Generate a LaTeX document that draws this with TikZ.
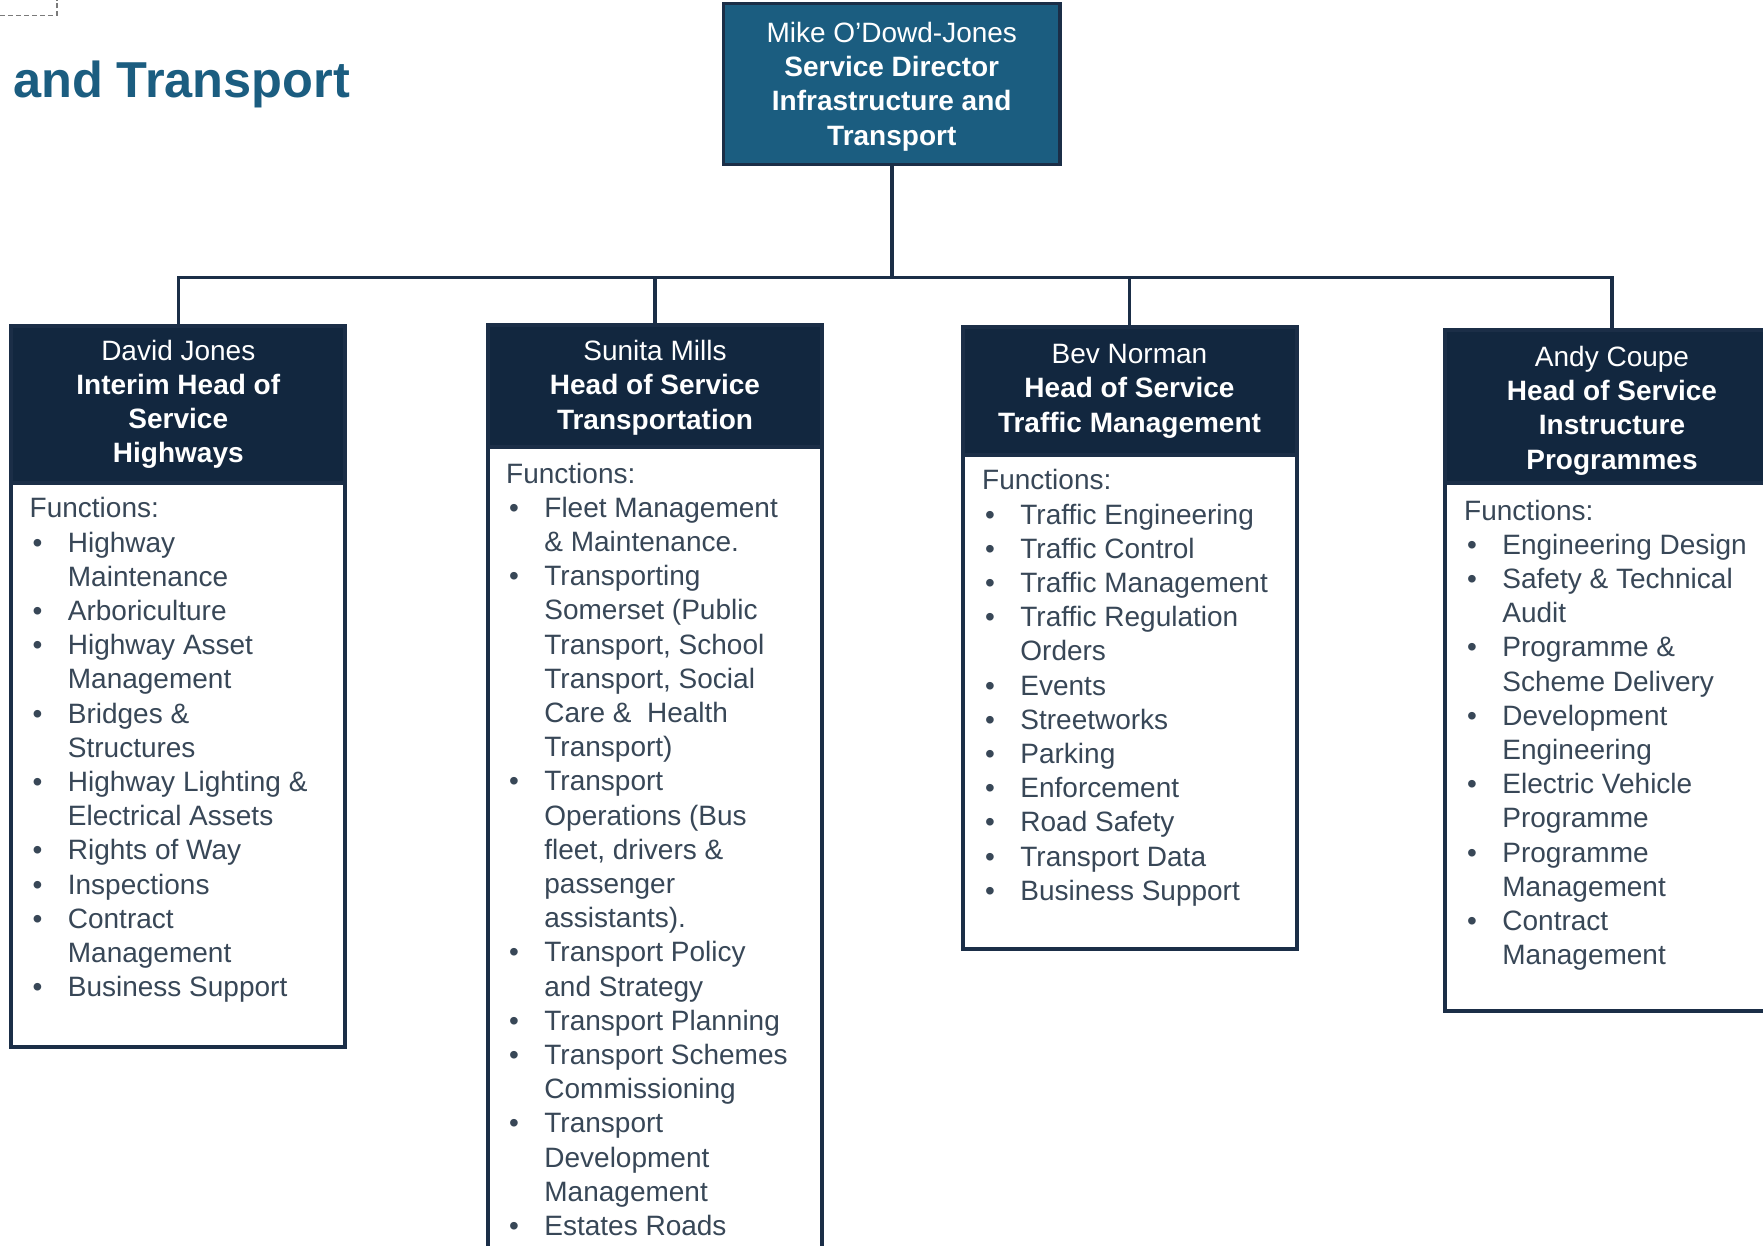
\documentclass[tikz,border=0pt]{standalone}
\usepackage{fontspec}
\setmainfont{Liberation Sans}
\definecolor{tealbox}{HTML}{1B5D80}
\definecolor{navy}{HTML}{12273F}
\definecolor{boxline}{HTML}{1B2E47}
\definecolor{bodytext}{HTML}{384757}
\definecolor{dashgray}{HTML}{7A7A7A}
\newcommand{\BulItem}[1]{\strut\makebox[38.2pt][l]{\hspace*{3pt}•}#1}
\newcommand{\ContItem}[1]{\strut\hspace*{38.2pt}#1}
\newcommand{\FuncHead}{\strut Functions:}
\begin{document}
\begin{tikzpicture}[x=1pt,y=-1pt,
  conn/.style={draw=boxline, line width=3.5pt},
  topbox/.style={draw=boxline, line width=3.5pt, fill=tealbox, inner sep=0pt, outer sep=0pt,
    minimum width=336.5pt, minimum height=161pt},
  hdr/.style={draw=boxline, line width=4pt, fill=navy, inner sep=0pt, outer sep=0pt,
    minimum width=334pt, anchor=south},
  hdrtxt/.style={text=white, align=center, inner sep=0pt, font=\fontsize{28}{34.2}\selectfont},
  bodybox/.style={draw=boxline, line width=4pt, fill=white, minimum width=334pt, inner sep=0pt, outer sep=0pt, anchor=north},
  bodytxt/.style={text=bodytext, align=left, inner sep=0pt, anchor=north west, font=\fontsize{28}{34.2}\selectfont},
  titletxt/.style={text=tealbox, inner sep=0pt, anchor=base west, font=\fontsize{50.5}{60}\selectfont\bfseries}
]
\useasboundingbox (0,0) rectangle (1763,1246);
\clip (0,0) rectangle (1763,1246);

% dashed corner mark and title
\draw[dashgray, line width=1.8pt, dash pattern=on 5pt off 3pt] (0,15.5) -- (57,15.5) -- (57,0);
\node[titletxt] (title) at (13,98) {and Transport};

% top box
\node[topbox] (top) at (891.75,84) {};
\node[hdrtxt] (toptxt) at ([yshift=-3pt]top.center) {\strut Mike O’Dowd-Jones\\\strut\textbf{Service Director}\\\strut\textbf{Infrastructure and}\\\strut\textbf{Transport}};

% bodies
\node[bodybox, minimum height=564pt] (b1) at (178.3,483) {};
\node[bodybox, minimum height=900pt] (b2) at (655,447) {};
\node[bodybox, minimum height=494.5pt] (b3) at (1129.5,454.5) {};
\node[bodybox, minimum height=527.5pt] (b4) at (1612,483) {};

% headers
\node[hdr, minimum height=157pt] (h1) at (b1.north) {};
\node[hdr, minimum height=122pt] (h2) at (b2.north) {};
\node[hdr, minimum height=127pt] (h3) at (b3.north) {};
\node[hdr, minimum height=153pt] (h4) at (b4.north) {};
\node[hdrtxt] (h1t) at (h1.center) {\strut David Jones\\\strut\textbf{Interim Head of}\\\strut\textbf{Service}\\\strut\textbf{Highways}};
\node[hdrtxt] (h2t) at ([yshift=-2pt]h2.center) {\strut Sunita Mills\\\strut\textbf{Head of Service}\\\strut\textbf{Transportation}};
\node[hdrtxt] (h3t) at (h3.center) {\strut Bev Norman\\\strut\textbf{Head of Service}\\\strut\textbf{Traffic Management}};
\node[hdrtxt] (h4t) at ([yshift=-4.5pt]h4.center) {\strut Andy Coupe\\\strut\textbf{Head of Service}\\\strut\textbf{Instructure}\\\strut\textbf{Programmes}};

% connectors
\coordinate (bus) at (891.75,277.7);
\draw[conn] (top.south) -- (bus);
\draw[conn] (h1.north) -- (h1.north |- bus) -- (h4.north |- bus) -- (h4.north);
\draw[conn] (h2.north) -- (h2.north |- bus);
\draw[conn] (h3.north) -- (h3.north |- bus);

\node[bodytxt] (t1) at (29.5,493.8) {\FuncHead\\
\BulItem{Highway}\\
\ContItem{Maintenance}\\
\BulItem{Arboriculture}\\
\BulItem{Highway Asset}\\
\ContItem{Management}\\
\BulItem{Bridges \&}\\
\ContItem{Structures}\\
\BulItem{Highway Lighting \&}\\
\ContItem{Electrical Assets}\\
\BulItem{Rights of Way}\\
\BulItem{Inspections}\\
\BulItem{Contract}\\
\ContItem{Management}\\
\BulItem{Business Support}};

\node[bodytxt] (t2) at (506,459) {\FuncHead\\
\BulItem{Fleet Management}\\
\ContItem{\& Maintenance.}\\
\BulItem{Transporting}\\
\ContItem{Somerset (Public}\\
\ContItem{Transport, School}\\
\ContItem{Transport, Social}\\
\ContItem{Care \&\ \ Health}\\
\ContItem{Transport)}\\
\BulItem{Transport}\\
\ContItem{Operations (Bus}\\
\ContItem{fleet, drivers \&}\\
\ContItem{passenger}\\
\ContItem{assistants).}\\
\BulItem{Transport Policy}\\
\ContItem{and Strategy}\\
\BulItem{Transport Planning}\\
\BulItem{Transport Schemes}\\
\ContItem{Commissioning}\\
\BulItem{Transport}\\
\ContItem{Development}\\
\ContItem{Management}\\
\BulItem{Estates Roads}};

\node[bodytxt] (t3) at (982,465.7) {\FuncHead\\
\BulItem{Traffic Engineering}\\
\BulItem{Traffic Control}\\
\BulItem{Traffic Management}\\
\BulItem{Traffic Regulation}\\
\ContItem{Orders}\\
\BulItem{Events}\\
\BulItem{Streetworks}\\
\BulItem{Parking}\\
\BulItem{Enforcement}\\
\BulItem{Road Safety}\\
\BulItem{Transport Data}\\
\BulItem{Business Support}};

\node[bodytxt] (t4) at (1464,496) {\FuncHead\\
\BulItem{Engineering Design}\\
\BulItem{Safety \& Technical}\\
\ContItem{Audit}\\
\BulItem{Programme \&}\\
\ContItem{Scheme Delivery}\\
\BulItem{Development}\\
\ContItem{Engineering}\\
\BulItem{Electric Vehicle}\\
\ContItem{Programme}\\
\BulItem{Programme}\\
\ContItem{Management}\\
\BulItem{Contract}\\
\ContItem{Management}};
\end{tikzpicture}
\end{document}
